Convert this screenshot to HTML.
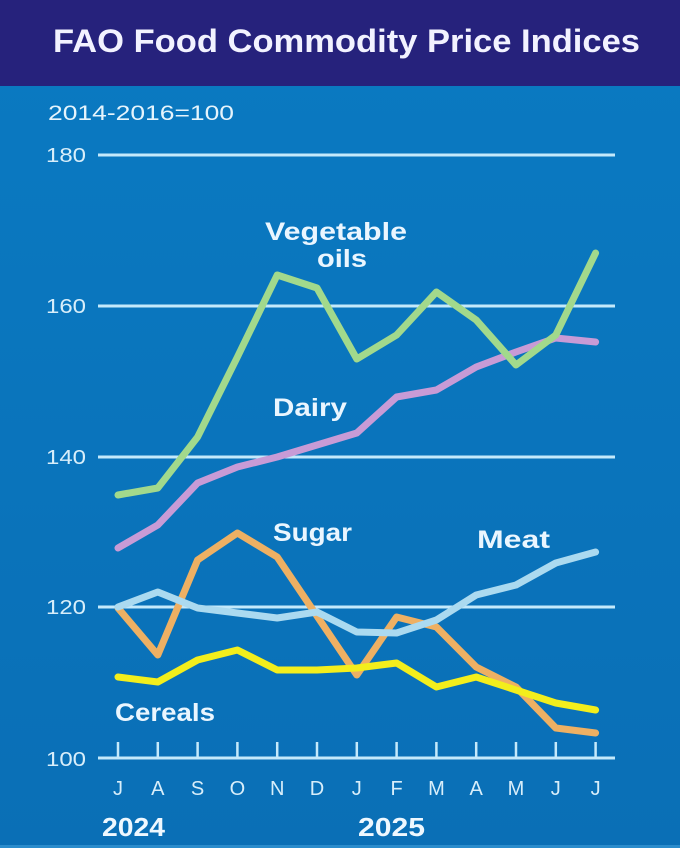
<!DOCTYPE html>
<html>
<head>
<meta charset="utf-8">
<style>
html,body{margin:0;padding:0;background:#0a72ba;}
svg{display:block;}
text{font-family:"Liberation Sans",sans-serif;}
</style>
</head>
<body>
<svg width="680" height="848" viewBox="0 0 680 848" xmlns="http://www.w3.org/2000/svg">
  <defs>
    <linearGradient id="bg" x1="0" y1="0" x2="0" y2="1">
      <stop offset="0" stop-color="#0a7ac2"/>
      <stop offset="1" stop-color="#0a6fb6"/>
    </linearGradient>
  </defs>
  <rect x="0" y="0" width="680" height="848" fill="url(#bg)"/>
  <rect x="0" y="0" width="680" height="86" fill="#26227c"/>
  <rect x="0" y="845" width="680" height="3" fill="#2b8ccc"/>

  <text x="53" y="52" font-size="32" font-weight="bold" fill="#f2f2ff" textLength="587" lengthAdjust="spacingAndGlyphs">FAO Food Commodity Price Indices</text>

  <text x="48" y="120" font-size="21" fill="#e6f4fc" textLength="186" lengthAdjust="spacingAndGlyphs">2014-2016=100</text>

  <!-- gridlines -->
  <g stroke="#c4e9fb" stroke-width="3">
    <line x1="98" y1="155" x2="615" y2="155"/>
    <line x1="98" y1="306" x2="615" y2="306"/>
    <line x1="98" y1="457" x2="615" y2="457"/>
    <line x1="98" y1="607" x2="615" y2="607"/>
    <line x1="98" y1="758" x2="615" y2="758"/>
  </g>
  <g stroke="#c4e9fb" stroke-width="2.5">
    <line x1="118" y1="742" x2="118" y2="758"/>
    <line x1="157.8" y1="742" x2="157.8" y2="758"/>
    <line x1="197.6" y1="742" x2="197.6" y2="758"/>
    <line x1="237.4" y1="742" x2="237.4" y2="758"/>
    <line x1="277.2" y1="742" x2="277.2" y2="758"/>
    <line x1="317" y1="742" x2="317" y2="758"/>
    <line x1="356.8" y1="742" x2="356.8" y2="758"/>
    <line x1="396.6" y1="742" x2="396.6" y2="758"/>
    <line x1="436.4" y1="742" x2="436.4" y2="758"/>
    <line x1="476.2" y1="742" x2="476.2" y2="758"/>
    <line x1="516" y1="742" x2="516" y2="758"/>
    <line x1="555.8" y1="742" x2="555.8" y2="758"/>
    <line x1="595.6" y1="742" x2="595.6" y2="758"/>
  </g>

  <!-- y labels -->
  <g font-size="20" fill="#d8eefa">
    <text x="46" y="162" textLength="40" lengthAdjust="spacingAndGlyphs">180</text>
    <text x="46" y="313" textLength="40" lengthAdjust="spacingAndGlyphs">160</text>
    <text x="46" y="464" textLength="40" lengthAdjust="spacingAndGlyphs">140</text>
    <text x="46" y="614" textLength="40" lengthAdjust="spacingAndGlyphs">120</text>
    <text x="46" y="766" textLength="40" lengthAdjust="spacingAndGlyphs">100</text>
  </g>

  <!-- month labels -->
  <g font-size="20" fill="#d8eefa" text-anchor="middle">
    <text x="118" y="795">J</text>
    <text x="157.8" y="795">A</text>
    <text x="197.6" y="795">S</text>
    <text x="237.4" y="795">O</text>
    <text x="277.2" y="795">N</text>
    <text x="317" y="795">D</text>
    <text x="356.8" y="795">J</text>
    <text x="396.6" y="795">F</text>
    <text x="436.4" y="795">M</text>
    <text x="476.2" y="795">A</text>
    <text x="516" y="795">M</text>
    <text x="555.8" y="795">J</text>
    <text x="595.6" y="795">J</text>
  </g>

  <text x="102" y="836" font-size="26" font-weight="bold" fill="#eef8ff" textLength="63" lengthAdjust="spacingAndGlyphs">2024</text>
  <text x="358" y="836" font-size="26" font-weight="bold" fill="#eef8ff" textLength="67" lengthAdjust="spacingAndGlyphs">2025</text>

  <!-- series -->
  <g fill="none" stroke-width="7" stroke-linejoin="round" stroke-linecap="round">
    <polyline stroke="#c89bd6" points="118,548 157.8,525 197.6,483 237.4,467 277.2,457 317,445 356.8,433 396.6,397 436.4,390 476.2,367 516,352 555.8,338 595.6,342"/>
    <polyline stroke="#a2d98c" points="118,495 157.8,488 197.6,437 237.4,357 277.2,275 317,288 356.8,359 396.6,335 436.4,292 476.2,320 516,365 555.8,335 595.6,253"/>
    <polyline stroke="#eeb063" points="118,608 157.8,655 197.6,560 237.4,533 277.2,557 317,616 356.8,675 396.6,617 436.4,627 476.2,667 516,687 555.8,728 595.6,733"/>
    <polyline stroke="#abdaf0" points="118,607 157.8,592 197.6,608 237.4,613 277.2,618 317,612 356.8,632 396.6,633 436.4,620 476.2,595 516,585 555.8,563 595.6,552"/>
    <polyline stroke="#f3ee1c" points="118,677 157.8,682 197.6,660 237.4,650 277.2,670 317,670 356.8,668 396.6,663 436.4,687 476.2,677 516,690 555.8,703 595.6,710"/>
  </g>

  <!-- series labels -->
  <g font-size="25" font-weight="bold" fill="#eaf6ff">
    <text x="265" y="240" textLength="142" lengthAdjust="spacingAndGlyphs">Vegetable</text>
    <text x="317" y="267" textLength="50" lengthAdjust="spacingAndGlyphs">oils</text>
    <text x="273" y="416" textLength="74" lengthAdjust="spacingAndGlyphs">Dairy</text>
    <text x="273" y="541" textLength="79" lengthAdjust="spacingAndGlyphs">Sugar</text>
    <text x="477" y="548" textLength="73" lengthAdjust="spacingAndGlyphs">Meat</text>
    <text x="115" y="721" textLength="100" lengthAdjust="spacingAndGlyphs">Cereals</text>
  </g>
</svg>
</body>
</html>
